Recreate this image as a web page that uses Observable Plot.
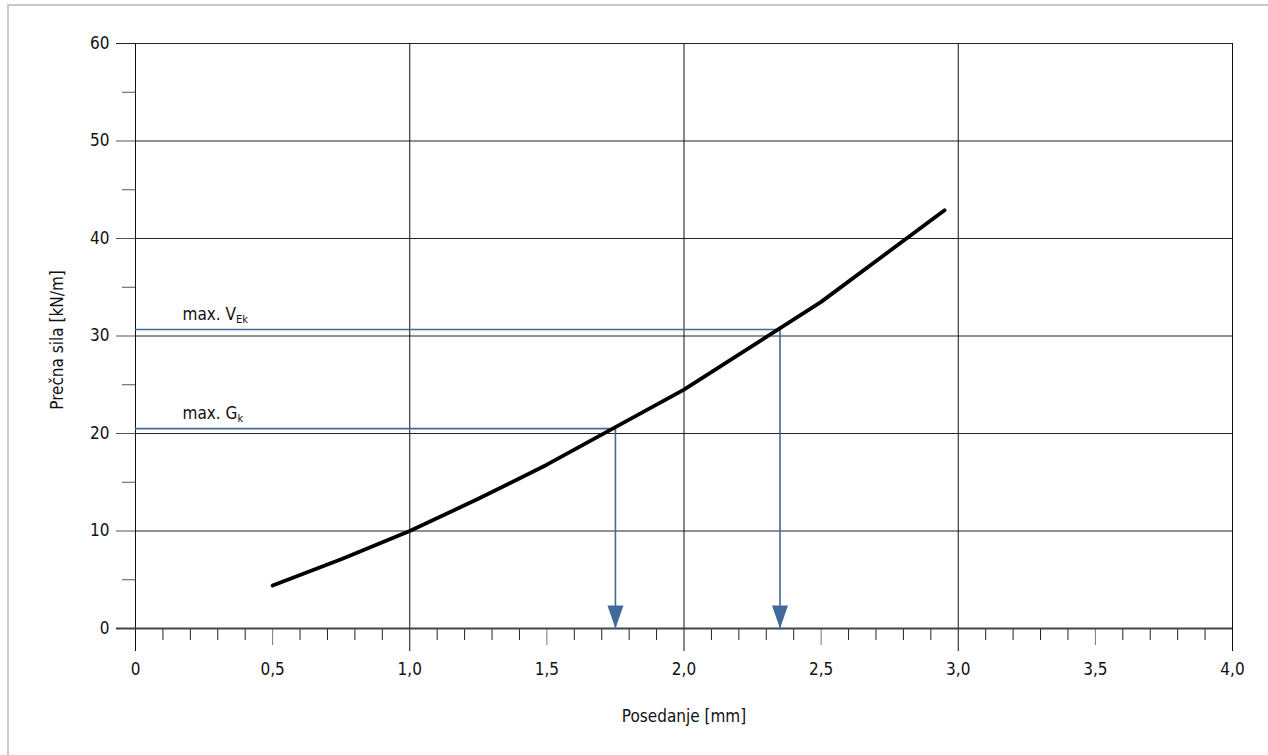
<!DOCTYPE html>
<html>
<head>
<meta charset="utf-8">
<script src="https://cdn.jsdelivr.net/npm/d3@7"></script>
<script src="https://cdn.jsdelivr.net/npm/@observablehq/plot@0.6"></script>
<style>
  html, body { margin: 0; padding: 0; background: #fff; }
  #wrap { position: relative; width: 1268px; height: 755px; overflow: hidden; }
  #frame { position: absolute; left: 7px; top: 4px; width: 1270px; height: 760px;
           border-top: 2px solid #c9c9c9; border-left: 2px solid #c9c9c9; pointer-events: none; }
  #chart svg { display: block; }
</style>
</head>
<body>
<div id="wrap"><div id="chart"></div><div id="frame"></div></div>
<script>
// ---- data ----
const curveX = [0.5, 0.75, 1.0, 1.25, 1.5, 2.0, 2.5, 2.95];
const curveY = [4.4, 7.1, 10.0, 13.3, 16.8, 24.5, 33.5, 42.9];

const limitNames = ["max. V", "max. G"];
const limitSubs  = ["Ek", "k"];
const limitForce = [30.67, 20.5];
const limitSettle = [2.35, 1.75];

const xTickValues = [0, 0.5, 1, 1.5, 2, 2.5, 3, 3.5, 4];
const xTickLabels = ["0", "0,5", "1,0", "1,5", "2,0", "2,5", "3,0", "3,5", "4,0"];
const yTickValues = [0, 10, 20, 30, 40, 50, 60];
const yTickLabels = ["0", "10", "20", "30", "40", "50", "60"];
const yMinorTicks = [5, 15, 25, 35, 45, 55];
const xGridValues = [0, 1, 2, 3, 4];
const xHalfTicks = [0.5, 1.5, 2.5, 3.5];

const xTitle = "Posedanje [mm]";
const yTitle = "Prečna sila [kN/m]";

// ---- derived tables ----
const curve = curveX.map((x, i) => ({x, y: curveY[i]}));
const limitPaths = [];
limitNames.forEach((n, i) => {
  limitPaths.push({k: i, x: 0, y: limitForce[i]});
  limitPaths.push({k: i, x: limitSettle[i], y: limitForce[i]});
  limitPaths.push({k: i, x: limitSettle[i], y: 0});
});
const arrows = limitSettle.map(x => ({x, y: 0}));
const xMinor = d3.range(1, 40).map(i => i / 10).filter(v => Math.abs(v * 2 - Math.round(v * 2)) > 1e-6);

const BLUE = "#41699a";
const FONT = "'Liberation Sans Narrow', 'Arial Narrow', 'DejaVu Sans Condensed', sans-serif";

const arrowSymbol = {
  draw(ctx) {
    ctx.moveTo(-8, -23);
    ctx.lineTo(8, -23);
    ctx.lineTo(0, 0);
    ctx.closePath();
  }
};

const chart = Plot.plot({
  width: 1268,
  height: 755,
  marginLeft: 135,
  marginRight: 36,
  marginTop: 43,
  marginBottom: 127,
  style: {fontFamily: FONT, fontSize: "17px", color: "#111", background: "#fff"},
  x: {domain: [0, 4], axis: null},
  y: {domain: [0, 60], axis: null},
  marks: [
    // horizontal grid lines
    Plot.ruleY(yTickValues.filter(v => v > 0 && v < 60), {x1: 0, x2: 4, stroke: "#222", strokeWidth: 1}),
    // top line extends left
    Plot.ruleY([60], {x1: 0, x2: 4, stroke: "#222", strokeWidth: 1, insetLeft: -19}),
    // y major ticks
    Plot.ruleY(yTickValues.filter(v => v > 0 && v < 60), {x1: 0, x2: 0, insetLeft: -19, stroke: "#555", strokeWidth: 1}),
    // y minor ticks
    Plot.ruleY(yMinorTicks, {x1: 0, x2: 0, insetLeft: -13, stroke: "#555", strokeWidth: 1}),
    // vertical grid lines (extend below axis)
    Plot.ruleX(xGridValues, {y1: 60, y2: 0, insetBottom: -23, stroke: "#111", strokeWidth: 1}),
    // x minor ticks
    Plot.ruleX(xMinor, {y1: 0, y2: 0, insetBottom: -12, stroke: "#222", strokeWidth: 1}),
    Plot.ruleX(xHalfTicks, {y1: 0, y2: 0, insetBottom: -17, stroke: "#777", strokeWidth: 1}),
    // x axis line
    Plot.ruleY([0], {x1: 0, x2: 4, insetLeft: -19, stroke: "#444", strokeWidth: 2}),
    // limit lines
    Plot.line(limitPaths, {x: "x", y: "y", z: "k", stroke: BLUE, strokeWidth: 1.6}),
    Plot.dot(arrows, {x: "x", y: "y", symbol: arrowSymbol, fill: BLUE, stroke: "none"}),
    // curve
    Plot.line(curve, {x: "x", y: "y", stroke: "#000", strokeWidth: 3.8, strokeLinecap: "round", strokeLinejoin: "round"}),
    // limit labels
    Plot.text(limitNames, {x: 0, y: (d, i) => limitForce[i], text: d => d, textAnchor: "start", dx: 47, dy: -15, fill: "#111", fontSize: 17}),
    // tick labels
    Plot.text(yTickLabels, {x: 0, y: (d, i) => yTickValues[i], text: d => d, textAnchor: "end", dx: -26, fill: "#111", fontSize: 17}),
    Plot.text(xTickLabels, {x: (d, i) => xTickValues[i], y: 0, text: d => d, dy: 41, fill: "#111", fontSize: 17}),
    // axis titles
    Plot.text([xTitle], {x: 2, y: 0, text: d => d, dy: 88, fill: "#111", fontSize: 17}),
    Plot.text([yTitle], {x: 0, y: 30, text: d => d, rotate: -90, dx: -78, dy: 4, fill: "#111", fontSize: 17})
  ]
});

// subscripts on limit labels
d3.select(chart).selectAll("text").each(function() {
  const t = this.textContent;
  const i = limitNames.indexOf(t);
  if (i >= 0) {
    d3.select(this).append("tspan").attr("dy", "0.3em").attr("font-size", "11px").text(limitSubs[i]);
  }
});

document.getElementById("chart").appendChild(chart);
</script>
</body>
</html>
